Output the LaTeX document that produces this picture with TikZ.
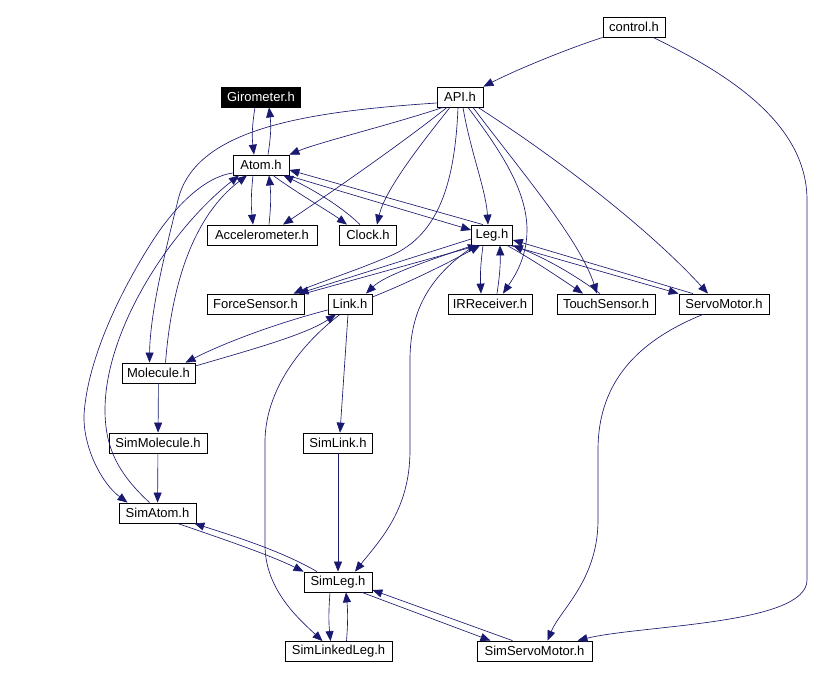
\documentclass[tikz,border=0pt]{standalone}
\usepackage{fontspec}
\setmainfont{Liberation Sans}
\usetikzlibrary{arrows.meta}
\definecolor{edgeblue}{HTML}{191970}

\begin{document}
\begin{tikzpicture}[x=1pt, y=-1pt,
    file/.style={draw, fill=white, line width=0.8pt, minimum height=20pt, inner sep=0pt,
      font=\fontsize{13}{15}\selectfont},
    thisfile/.style={file, fill=black, text=white},
    dep/.style={draw=edgeblue, line width=0.65pt, -{Triangle[length=10pt,width=8pt]}}]
    \useasboundingbox (0,0) rectangle (825,678);
    % Define nodes
    \node (ctl) at (634,27) [file, minimum width=62pt] {control.h};
    \node (api) at (460,97) [file, minimum width=46pt] {API.h};
    \node (gir) at (261,97) [thisfile, minimum width=79pt] {Girometer.h};
    \node (atom) at (261,165) [file, minimum width=56pt] {Atom.h};
    \node (accel) at (262,235) [file, minimum width=110pt] {Accelerometer.h};
    \node (clock) at (368,235) [file, minimum width=57pt] {Clock.h};
    \node (leg) at (492,235) [file, minimum width=41pt] {Leg.h};
    \node (fsens) at (255.5,304) [file, minimum width=97pt] {ForceSensor.h};
    \node (link) at (350,304) [file, minimum width=44pt] {Link.h};
    \node (irrec) at (490,304) [file, minimum width=84pt] {IRReceiver.h};
    \node (touch) at (606,304) [file, minimum width=98pt] {TouchSensor.h};
    \node (servo) at (724,304) [file, minimum width=90pt] {ServoMotor.h};
    \node (mol) at (158.5,373) [file, minimum width=73pt] {Molecule.h};
    \node (simmol) at (158,443) [file, minimum width=98pt] {SimMolecule.h};
    \node (simlink) at (338,443) [file, minimum width=69pt] {SimLink.h};
    \node (simatom) at (157.5,513) [file, minimum width=77pt] {SimAtom.h};
    \node (simleg) at (338,582) [file, minimum width=68pt] {SimLeg.h};
    \node (simlnk) at (338.5,651.5) [file, minimum width=107pt] {SimLinkedLeg.h};
    \node (simsrv) at (534.5,651) [file, minimum width=115pt] {SimServoMotor.h};

    % Draw arrows
    \draw[dep] (ctl.south west) .. controls (570,48) and (520,68) .. (api.north east);
    \draw[dep] ([xshift=19pt]ctl.south) .. controls (720,70) and (807,120) .. (807,200)
      -- (807,580) .. controls (807,625) and (640,625) .. ([xshift=43pt]simsrv.north);

    \draw[dep] ([yshift=-6pt]api.west) .. controls (300,112) and (195,130) .. (178,200)
      .. controls (168,241) and (150,310) .. ([xshift=-9pt]mol.north);
    \draw[dep] ([xshift=-17pt]api.south) .. controls (390,125) and (320,142) .. (atom.north east);
    \draw[dep] ([xshift=-13pt]api.south) .. controls (400,145) and (320,200) .. ([xshift=21pt]accel.north);
    \draw[dep] ([xshift=-10pt]api.south) .. controls (420,145) and (385,190) .. ([xshift=9pt]clock.north);
    \draw[dep] ([xshift=-2pt]api.south) .. controls (455,180) and (440,235) .. (390,256)
      .. controls (355,271) and (320,282) .. ([xshift=38pt]fsens.north);
    \draw[dep] ([xshift=3pt]api.south) .. controls (470,150) and (486,190) .. ([xshift=-4pt]leg.north);
    \draw[dep] ([xshift=8pt]api.south) .. controls (500,150) and (527,190) .. (527,230)
      .. controls (527,260) and (512,280) .. ([xshift=13pt]irrec.north);
    \draw[dep] ([xshift=13pt]api.south) .. controls (520,170) and (580,240) .. ([xshift=-9pt]touch.north);
    \draw[dep] ([xshift=18pt]api.south) .. controls (560,160) and (650,230) .. ([xshift=-16pt]servo.north);

    \draw[dep] ([xshift=-6pt]gir.south) to[bend right=8] ([xshift=-7pt]atom.north);
    \draw[dep] ([xshift=7pt]atom.north) to[bend right=8] ([xshift=8pt]gir.south);
    \draw[dep] ([xshift=-8pt]atom.south) to[bend right=6] ([xshift=-9pt]accel.north);
    \draw[dep] ([xshift=7pt]accel.north) to[bend right=6] ([xshift=8pt]atom.south);
    \draw[dep] ([xshift=12pt]atom.south) .. controls (300,195) and (330,212) .. ([xshift=-21pt]clock.north);
    \draw[dep] ([xshift=-8pt]clock.north) .. controls (340,205) and (310,188) .. ([xshift=-6pt]atom.south east);
    \draw[dep] ([xshift=-2pt]atom.south east) -- ([yshift=5pt]leg.west);
    \draw[dep] ([xshift=-9pt]leg.north) -- ([yshift=-5pt]atom.east);

    \draw[dep] ([xshift=7pt]mol.north) .. controls (172,280) and (195,215) .. ([xshift=-14pt]atom.south);
    \draw[dep] ([yshift=-8pt]atom.west) .. controls (205,177) and (175,205) .. (150,245)
      .. controls (131,275) and (88,350) .. (84,415)
      .. controls (83,445) and (100,482) .. ([xshift=-30pt]simatom.north);
    \draw[dep] ([xshift=-8pt]simatom.north) .. controls (120,475) and (105,450) .. (105,410)
      .. controls (105,330) and (170,230) .. ([xshift=-22pt]atom.south);

    \draw[dep] ([yshift=-4pt]leg.west) -- ([xshift=43pt]fsens.north);
    \draw[dep] (fsens.north east) -- ([xshift=-14pt]leg.south);
    \draw[dep] ([xshift=-19pt]leg.south) .. controls (430,260) and (385,275) .. ([xshift=16pt]link.north);
    \draw[dep] ([yshift=7pt]link.east) .. controls (410,282) and (450,262) .. ([xshift=-12pt]leg.south);
    \draw[dep] ([xshift=-9pt]leg.south) to[bend right=5] ([xshift=-9pt]irrec.north);
    \draw[dep] ([xshift=7pt]irrec.north) to[bend right=5] ([xshift=8pt]leg.south);
    \draw[dep] ([xshift=15pt]leg.south) .. controls (530,258) and (560,278) .. ([xshift=-23pt]touch.north);
    \draw[dep] ([xshift=-6pt]touch.north) .. controls (575,275) and (545,258) .. (leg.south east);
    \draw[dep] ([xshift=18pt]leg.south) -- (servo.north west);
    \draw[dep] ([xshift=-31pt]servo.north) -- ([yshift=-5pt]leg.east);
    \draw[dep] ([xshift=-17pt]leg.south) .. controls (430,275) and (410,310) .. (410,360)
      -- (410,450) .. controls (410,510) and (380,540) .. ([xshift=17pt]simleg.north);

    \draw[dep] ([yshift=-6pt]link.west) .. controls (270,325) and (220,345) .. ([xshift=27pt]mol.north);
    \draw[dep] ([yshift=7pt]mol.east) .. controls (250,350) and (305,335) .. ([xshift=-14pt]link.south);
    \draw[dep] ([xshift=-10pt]link.south) .. controls (300,345) and (266,390) .. (265,440)
      -- (265,545) .. controls (265,590) and (300,620) .. ([xshift=-16pt]simlnk.north);
    \draw[dep] ([xshift=-2pt]link.south) -- ([xshift=2pt]simlink.north);

    \draw[dep] (mol) -- (simmol);
    \draw[dep] (simmol) -- (simatom);
    \draw[dep] (simlink) -- (simleg);

    \draw[dep] ([xshift=20pt]simatom.south) .. controls (220,538) and (270,555) .. (simleg.north west);
    \draw[dep] ([xshift=-21pt]simleg.north) .. controls (280,550) and (230,535) .. ([xshift=-2pt]simatom.south east);
    \draw[dep] ([xshift=-8pt]simleg.south) to[bend right=5] ([xshift=-8pt]simlnk.north);
    \draw[dep] ([xshift=8pt]simlnk.north) to[bend right=5] ([xshift=8pt]simleg.south);
    \draw[dep] ([xshift=24pt]simleg.south) -- ([xshift=-44pt]simsrv.north);
    \draw[dep] ([xshift=-22pt]simsrv.north) -- ([yshift=-8pt]simleg.east);
    \draw[dep] ([xshift=-21pt]servo.south) .. controls (640,340) and (598,380) .. (598,450)
      -- (598,520) .. controls (598,580) and (560,610) .. ([xshift=13pt]simsrv.north);
\end{tikzpicture}
\end{document}
